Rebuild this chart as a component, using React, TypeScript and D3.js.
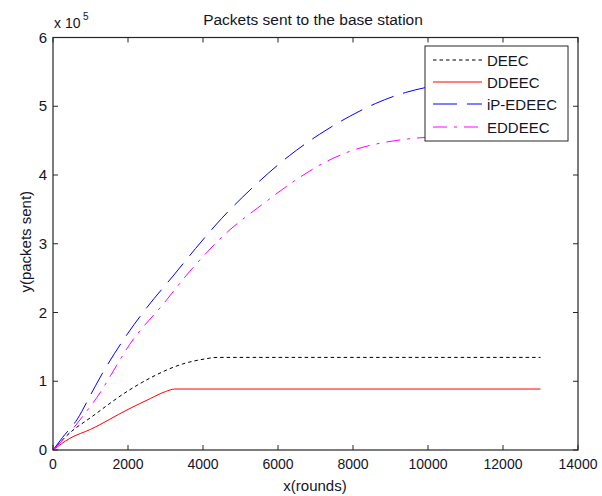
import React from "react";
import * as d3 from "d3";

const TITLE = "Packets sent to the base station";
const X_LABEL = "x(rounds)";
const Y_LABEL = "y(packets sent)";
const X_TICKS = [0, 2000, 4000, 6000, 8000, 10000, 12000, 14000];
const Y_TICKS = [0, 1, 2, 3, 4, 5, 6];

const DEEC_X = [0, 450, 1000, 2000, 2600, 3450, 4000, 4400, 13000];
const DEEC_Y = [0, 0.25, 0.47, 0.86, 1.05, 1.25, 1.32, 1.347, 1.347];

const DDEEC_X = [0, 450, 1000, 2000, 2600, 3000, 3250, 13000];
const DDEEC_Y = [0, 0.17, 0.3, 0.59, 0.75, 0.85, 0.887, 0.887];

const IP_X = [0, 250, 650, 1000, 1250, 2000, 2500, 3200, 3800, 4500, 5250, 6300, 7100, 7900, 8600, 9400, 10000];
const IP_Y = [0, 0.18, 0.45, 0.8, 1.05, 1.7, 2.07, 2.53, 2.93, 3.37, 3.78, 4.28, 4.59, 4.85, 5.04, 5.2, 5.28];

const ED_X = [0, 500, 850, 1300, 1500, 2050, 2950, 3650, 4550, 5650, 6400, 7200, 8000, 8700, 9400, 10000];
const ED_Y = [0, 0.29, 0.53, 0.87, 1.05, 1.54, 2.13, 2.6, 3.12, 3.6, 3.9, 4.17, 4.36, 4.46, 4.52, 4.55];

const SERIES_NAMES = ["DEEC", "DDEEC", "iP-EDEEC", "EDDEEC"];

const W = 602;
const H = 496;
const L = 53;
const R = 578;
const T = 37.5;
const B = 450;
const FONT = "Arial, 'Liberation Sans', Helvetica, sans-serif";
const TXT = "#141428";

export default function App() {
  const x = d3.scaleLinear().domain([0, 14000]).range([L, R]);
  const y = d3.scaleLinear().domain([0, 6]).range([B, T]);
  const line = d3
    .line<[number, number]>()
    .x((d) => x(d[0]))
    .y((d) => y(d[1]))
    .curve(d3.curveMonotoneX);
  const zip = (a: number[], b: number[]) => a.map((v, i) => [v, b[i]] as [number, number]);

  const series = [
    { name: SERIES_NAMES[0], xs: DEEC_X, ys: DEEC_Y, color: "#000000", dash: "3.5,3" },
    { name: SERIES_NAMES[1], xs: DDEEC_X, ys: DDEEC_Y, color: "#ff0000", dash: "" },
    { name: SERIES_NAMES[2], xs: IP_X, ys: IP_Y, color: "#0000ff", dash: "24,10" },
    { name: SERIES_NAMES[3], xs: ED_X, ys: ED_Y, color: "#ff00ff", dash: "14,7,3,7" },
  ];

  const legX = 425;
  const legY = 46;
  const legW = 143;
  const legH = 95;
  const rowY = [60, 82, 104, 127];

  return (
    <div style={{ position: "fixed", left: 0, top: 0, width: W, height: H, background: "#fff" }}>
      <svg width={W} height={H} style={{ display: "block" }}>
        <rect x={0} y={0} width={W} height={H} fill="#fff" />
        <rect x={L} y={T} width={R - L} height={B - T} fill="#fff" />
        {series.map((s) => (
          <path
            key={s.name}
            d={line(zip(s.xs, s.ys)) || ""}
            fill="none"
            stroke={s.color}
            strokeWidth={1}
            strokeDasharray={s.dash || undefined}
          />
        ))}
        <rect x={L} y={T} width={R - L} height={B - T} fill="none" stroke="#262626" strokeWidth={1.2} />
        {X_TICKS.map((t) => (
          <g key={"x" + t}>
            <line x1={x(t)} x2={x(t)} y1={B} y2={B - 5} stroke="#262626" />
            <line x1={x(t)} x2={x(t)} y1={T} y2={T + 5} stroke="#262626" />
            <text x={x(t)} y={469} textAnchor="middle" fontFamily={FONT} fontSize={14} fill={TXT}>
              {t}
            </text>
          </g>
        ))}
        {Y_TICKS.map((t) => (
          <g key={"y" + t}>
            <line x1={L} x2={L + 5} y1={y(t)} y2={y(t)} stroke="#262626" />
            <line x1={R} x2={R - 5} y1={y(t)} y2={y(t)} stroke="#262626" />
            <text x={47} y={y(t) + 5} textAnchor="end" fontFamily={FONT} fontSize={15} fill={TXT}>
              {t}
            </text>
          </g>
        ))}
        <text x={54} y={28} fontFamily={FONT} fontSize={14} fill={TXT}>
          x 10
        </text>
        <text x={83} y={20} fontFamily={FONT} fontSize={10} fill={TXT}>
          5
        </text>
        <text x={313} y={25} textAnchor="middle" fontFamily={FONT} fontSize={15.5} fill={TXT}>
          {TITLE}
        </text>
        <text x={315} y={491} textAnchor="middle" fontFamily={FONT} fontSize={15} fill={TXT}>
          {X_LABEL}
        </text>
        <text
          transform={`translate(31,${(T + B) / 2 - 2}) rotate(-90)`}
          textAnchor="middle"
          fontFamily={FONT}
          fontSize={15}
          fill={TXT}
        >
          {Y_LABEL}
        </text>
        <rect x={legX} y={legY} width={legW} height={legH} fill="#fff" stroke="#262626" strokeWidth={1} />
        {series.map((s, i) => (
          <g key={"leg" + s.name}>
            <line
              x1={433}
              x2={482}
              y1={rowY[i]}
              y2={rowY[i]}
              stroke={s.color}
              strokeWidth={1}
              strokeDasharray={s.dash || undefined}
            />
            <text x={487} y={rowY[i] + 5.5} fontFamily={FONT} fontSize={15} fill={TXT}>
              {s.name}
            </text>
          </g>
        ))}
      </svg>
    </div>
  );
}
